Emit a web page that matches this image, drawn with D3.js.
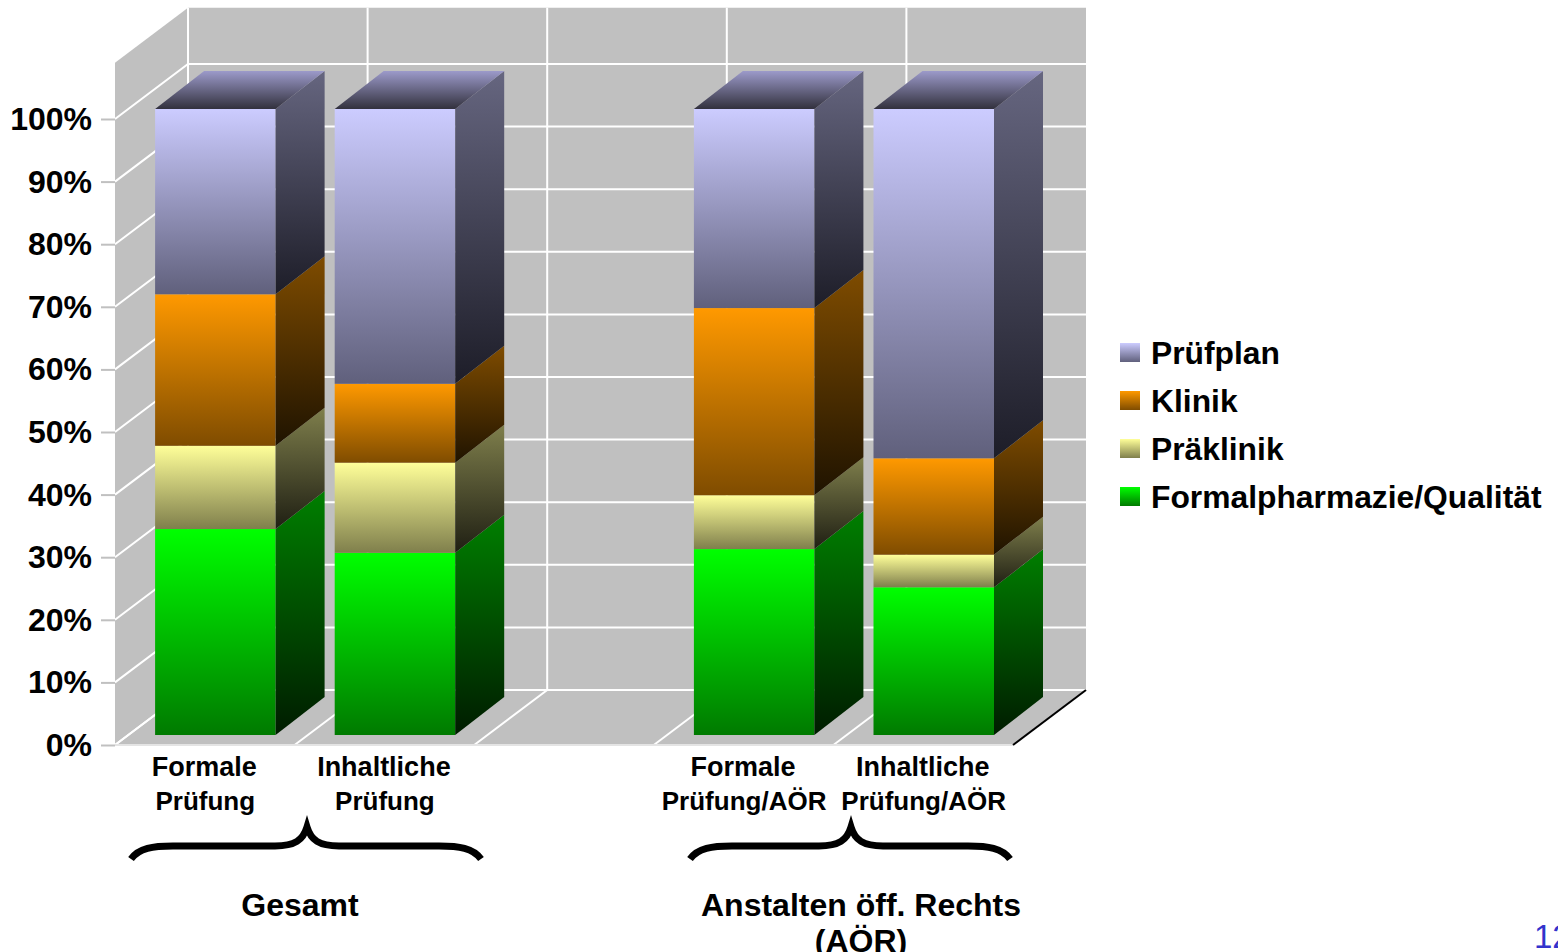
<!DOCTYPE html>
<html lang="de">
<head>
<meta charset="utf-8">
<style>
  html, body { margin: 0; padding: 0; background: #fff; overflow: hidden; }
  svg { display: block; }
  text { font-family: "Liberation Sans", Arial, sans-serif; font-weight: bold; fill: #000; }
</style>
<script src="https://cdnjs.cloudflare.com/ajax/libs/d3/7.8.5/d3.min.js"></script>
</head>
<body>
<svg id="chart" width="1558" height="952"></svg>
<script>
// Slots on the category axis; the empty slot separates the two groups.
const categories = ["a", "b", "gap", "c", "d"];
const categoryLabels = [["Formale", "Prüfung"], ["Inhaltliche", "Prüfung"], [], ["Formale", "Prüfung/AÖR"], ["Inhaltliche", "Prüfung/AÖR"]];

// Percent share per category, bottom segment first.
const formalpharmazie = [32.9, 29.1, 0, 29.7, 23.6];
const praeklinik = [13.3, 14.4, 0, 8.6, 5.2];
const klinik = [24.2, 12.6, 0, 29.9, 15.4];
const pruefplan = [29.6, 43.9, 0, 31.8, 55.8];

const seriesNames = ["Formalpharmazie/Qualität", "Präklinik", "Klinik", "Prüfplan"];
const seriesValues = [formalpharmazie, praeklinik, klinik, pruefplan];
const yTicks = [0, 10, 20, 30, 40, 50, 60, 70, 80, 90, 100];

// Colour stops: front face, side face.
const frontColors = [["#00ff00", "#007a00"], ["#ffff99", "#7f7f4c"], ["#ff9900", "#7f4c00"], ["#ccccff", "#60607c"]];
const sideColors = [["#007f00", "#001c00"], ["#7f7f4c", "#1f1f13"], ["#7f4c00", "#1f1300"], ["#666680", "#1d1d28"]];

const svg = d3.select("#chart");
const defs = svg.append("defs");

function gradient(id, top, bottom) {
  const g = defs.append("linearGradient").attr("id", id).attr("x1", 0).attr("y1", 0).attr("x2", 0).attr("y2", 1);
  g.append("stop").attr("offset", "0%").attr("stop-color", top);
  g.append("stop").attr("offset", "100%").attr("stop-color", bottom);
  return `url(#${id})`;
}

const frontFill = frontColors.map((c, i) => gradient(`front${i}`, c[0], c[1]));
const sideFill = sideColors.map((c, i) => gradient(`side${i}`, c[0], c[1]));
const topFill = gradient("topFace", "#9c9aca", "#32313d");

// Scales for the front plane of the box and for the bars standing inside it.
const x = d3.scaleBand().domain(categories).range([115, 1013]);
const yBox = d3.scaleLinear().domain([0, 100]).range([745, 119]);
const yBar = d3.scaleLinear().domain([0, 100]).range([735, 109]);

// Projection offsets of the box and of one bar.
const boxDx = 73, boxDy = -55;
const barDx = 49, barDy = -38;
const barInset = 40.3, barWidth = 120.5;
const yMax = 109;

const poly = pts => pts.map(p => p.join(",")).join(" ");

// Back wall, side wall, floor
const left = x.range()[0], right = x.range()[1];
const box = svg.append("g");
box.append("polygon").attr("fill", "#c0c0c0").attr("points", poly([
  [left + boxDx, yBox(yMax) + boxDy], [right + boxDx, yBox(yMax) + boxDy],
  [right + boxDx, yBox(0) + boxDy], [left + boxDx, yBox(0) + boxDy]]));
box.append("polygon").attr("fill", "#c0c0c0").attr("points", poly([
  [left, yBox(yMax)], [left + boxDx, yBox(yMax) + boxDy], [left + boxDx, yBox(0) + boxDy], [left, yBox(0)]]));
box.append("polygon").attr("fill", "#c0c0c0").attr("points", poly([
  [left, yBox(0)], [left + boxDx, yBox(0) + boxDy], [right + boxDx, yBox(0) + boxDy], [right, yBox(0)]]));

// Grid lines on both walls
const grid = box.append("g").attr("stroke", "#fff").attr("stroke-width", 2).attr("fill", "none");
grid.selectAll(".h").data(yTicks).join("polyline")
  .attr("points", d => poly([[left, yBox(d)], [left + boxDx, yBox(d) + boxDy], [right + boxDx, yBox(d) + boxDy]]));
const slotEdges = categories.map(c => x(c)).concat(right);
grid.selectAll(".v").data(slotEdges.slice(0, -1)).join("polyline")
  .attr("points", d => poly([[d, yBox(0)], [d + boxDx, yBox(0) + boxDy], [d + boxDx, yBox(yMax) + boxDy]]));

// Floor edges
box.append("line").attr("x1", left).attr("x2", right).attr("y1", yBox(0)).attr("y2", yBox(0))
  .attr("stroke", "#e4e4e4").attr("stroke-width", 2);
box.append("line").attr("x1", right).attr("y1", yBox(0)).attr("x2", right + boxDx).attr("y2", yBox(0) + boxDy)
  .attr("stroke", "#000").attr("stroke-width", 2);

// Percent axis
const yAxis = svg.append("g").attr("transform", `translate(${left},0)`)
  .call(d3.axisLeft(yBox).tickValues(yTicks).tickSize(14).tickPadding(9).tickFormat(d => d + "%"));
yAxis.select(".domain").remove();
yAxis.selectAll("line").attr("stroke", "#c0c0c0").attr("stroke-width", 2);
yAxis.selectAll("text").attr("font-size", 32).attr("dy", "0.33em")
  .style("font-family", '"Liberation Sans", Arial, sans-serif').style("font-weight", "bold").attr("fill", "#000");

// Stacked 3D bars
const rows = categories.map((c, i) => {
  const row = { category: c };
  seriesNames.forEach((s, k) => { row[s] = seriesValues[k][i]; });
  return row;
});
const stacked = d3.stack().keys(seriesNames)(rows);
const barLayer = svg.append("g");

categories.forEach((c, ci) => {
  if (!categoryLabels[ci].length) return;
  const x0 = x(c) + barInset - 0.2;
  const x1 = x0 + barWidth;
  const barG = barLayer.append("g");
  stacked.forEach((layer, si) => {
    const [lo, hi] = layer[ci];
    const yLo = yBar(lo), yHi = yBar(hi);
    barG.append("rect").attr("x", x0).attr("y", yHi).attr("width", barWidth).attr("height", yLo - yHi)
      .attr("fill", frontFill[si]);
    barG.append("polygon").attr("fill", sideFill[si]).attr("points", poly([
      [x1, yHi], [x1 + barDx, yHi + barDy], [x1 + barDx, yLo + barDy], [x1, yLo]]));
  });
  const yTop = yBar(100);
  barG.append("polygon").attr("fill", topFill).attr("points", poly([
    [x0, yTop], [x0 + barDx, yTop + barDy], [x1 + barDx, yTop + barDy], [x1, yTop]]));
});

// Category labels, two lines each; the first line is set slightly larger
const catLabels = svg.append("g").attr("text-anchor", "middle");
categories.forEach((c, i) => {
  categoryLabels[i].forEach((line, l) => {
    catLabels.append("text")
      .attr("x", x(c) + x.bandwidth() / 2 + l - 0.5)
      .attr("y", 776 + l * 34)
      .attr("font-size", l === 0 ? 27 : 26)
      .text(line);
  });
});

// Curly brace between two x positions, tip at the given x
function bracePath(xa, xb, tip, yTip) {
  const yMid = yTip + 19, yEnd = yTip + 32;
  return `M${xa},${yEnd} C${xa + 8},${yMid + 2} ${xa + 22},${yMid} ${xa + 42},${yMid}` +
    ` L${tip - 32},${yMid} C${tip - 12},${yMid} ${tip - 4},${yMid - 6} ${tip},${yTip}` +
    ` C${tip + 4},${yMid - 6} ${tip + 12},${yMid} ${tip + 32},${yMid}` +
    ` L${xb - 42},${yMid} C${xb - 22},${yMid} ${xb - 8},${yMid + 2} ${xb},${yEnd}`;
}
const braces = [[131, 481, 307], [690, 1010, 851]];
svg.append("g").attr("fill", "none").attr("stroke", "#000").attr("stroke-width", 7)
  .selectAll("path").data(braces).join("path")
  .attr("d", d => bracePath(d[0], d[1], d[2], 827));

// Group captions
const groupCaptions = [
  { cx: 300, lines: ["Gesamt"] },
  { cx: 861, lines: ["Anstalten öff. Rechts", "(AÖR)"] }
];
const captions = svg.append("g").attr("text-anchor", "middle").attr("font-size", 32);
groupCaptions.forEach(g => g.lines.forEach((line, l) => {
  captions.append("text").attr("x", g.cx).attr("y", 916 + l * 36).text(line);
}));

// Legend, top entry is the top stack segment
const legendRows = seriesNames.map((name, i) => ({ name, i })).reverse();
const legend = svg.append("g").attr("transform", "translate(1120,343)");
legendRows.forEach((d, row) => {
  const g = legend.append("g").attr("transform", `translate(0,${row * 48})`);
  g.append("rect").attr("width", 20).attr("height", 19).attr("fill", frontFill[d.i]);
  g.append("text").attr("x", 31).attr("y", 21).attr("font-size", 31.8).text(d.name);
});

// Page number, cut off by the right edge
svg.append("text").attr("x", 1534).attr("y", 948).attr("font-size", 33)
  .style("font-weight", "normal").style("fill", "#3333cc").text("12");
</script>
</body>
</html>
